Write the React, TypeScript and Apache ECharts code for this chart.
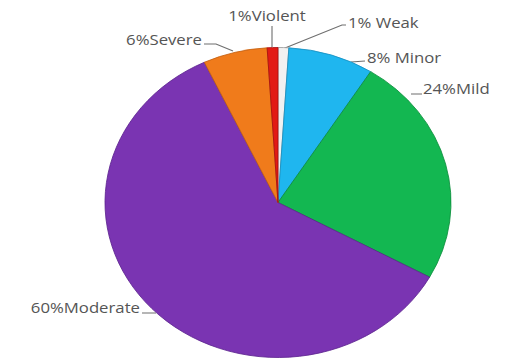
import React, { useEffect, useRef } from "react";
import * as echarts from "echarts";

const categories = ["Weak", "Minor", "Mild", "Moderate", "Severe", "Violent"];
const percents = [1, 8, 24, 60, 6, 1];
const labelTexts = ["1% Weak", "8% Minor", "24%Mild", "60%Moderate", "6%Severe", "1%Violent"];
const colors = ["#f1f1f1", "#1fb6ef", "#13b751", "#7a34b2", "#f07b1b", "#e21a14"];
const borders = ["#9a9a9a", "#1690c0", "#0c8e3c", "#5e2590", "#c45f10", "#a81010"];

// Page is horizontally stretched (reference looks like a stretched image)
const STRETCH = 173 / 155;
const PAGE_W = 507;
const PAGE_H = 360;

// label layout in page coordinates (layout only)
const labelPlace: {
  x: number;
  y: number;
  align: "left" | "right" | "center";
  line: number[][];
}[] = [
  { x: 348, y: 22, align: "left", line: [[285, 48], [342, 25], [346, 25]] },
  { x: 367, y: 57, align: "left", line: [[351, 62], [365, 61]] },
  { x: 423, y: 88, align: "left", line: [[411, 94], [422, 94]] },
  { x: 140, y: 307, align: "right", line: [[156, 313], [142, 313]] },
  { x: 202, y: 39, align: "right", line: [[233, 51], [216, 44], [204, 44]] },
  { x: 267, y: 15, align: "center", line: [[272, 47], [272, 26]] },
];

export default function App() {
  const ref = useRef<HTMLDivElement>(null);
  useEffect(() => {
    document.body.style.margin = "0";
    if (!ref.current) return;
    const chart = echarts.init(ref.current, undefined, { renderer: "svg" });
    const sx = (x: number) => x / STRETCH;
    chart.setOption({
      animation: false,
      backgroundColor: "#ffffff",
      series: [
        {
          type: "pie",
          center: [sx(278), 202.5],
          radius: 155,
          startAngle: 90,
          clockwise: true,
          avoidLabelOverlap: false,
          label: {
            show: true,
            position: "outside",
            color: "#555555",
            fontSize: 15,
            fontFamily: "Open Sans",
            formatter: (p: any) => labelTexts[p.dataIndex],
          },
          labelLine: { show: true, length: 8, length2: 8, lineStyle: { color: "#6f6f6f", width: 1 } },
          labelLayout: (params: any) => {
            const pl = labelPlace[params.dataIndex];
            return {
              x: sx(pl.x),
              y: pl.y,
              align: pl.align,
              verticalAlign: "middle",
              labelLinePoints: pl.line.map((p) => [sx(p[0]), p[1]]),
            };
          },
          data: categories.map((c, i) => ({
            name: c,
            value: percents[i],
            itemStyle: { color: colors[i], borderColor: borders[i], borderWidth: 0.8 },
          })),
        },
      ],
    });
    return () => chart.dispose();
  }, []);
  return (
    <div style={{ position: "relative", width: PAGE_W, height: PAGE_H, overflow: "hidden", background: "#fff" }}>
      <div
        ref={ref}
        style={{
          position: "absolute",
          left: 0,
          top: 0,
          width: PAGE_W / STRETCH,
          height: PAGE_H,
          transform: `scaleX(${STRETCH})`,
          transformOrigin: "0 0",
        }}
      />
    </div>
  );
}
